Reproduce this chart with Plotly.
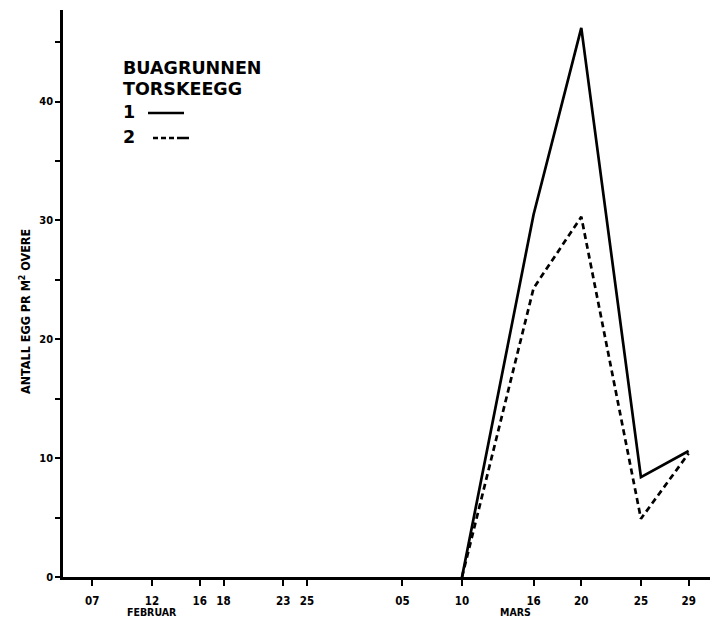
import plotly.graph_objects as go

# ---- data ----
dates = ["1983-03-10", "1983-03-16", "1983-03-20", "1983-03-25", "1983-03-29"]
series1 = [0, 30.5, 46.2, 8.4, 10.6]   # 1 (solid)
series2 = [0, 24.3, 30.3, 4.9, 10.4]   # 2 (dashed)

tick_dates = ["1983-02-07", "1983-02-12", "1983-02-16", "1983-02-18", "1983-02-23",
              "1983-02-25", "1983-03-05", "1983-03-10", "1983-03-16", "1983-03-20",
              "1983-03-25", "1983-03-29"]
tick_labels = ["07", "12", "16", "18", "23", "25", "05", "10", "16", "20", "25", "29"]

legend_title = ["BUAGRUNNEN", "TORSKEEGG"]
series_names = ["1", "2"]
y_title = "ANTALL EGG PR M<sup>2</sup> OVERE"
month_labels = [("1983-02-12", "FEBRUAR"), ("1983-03-14 12:00", "MARS")]

FONT = "DejaVu Sans Condensed, DejaVu Sans, sans-serif"
LEGEND_FONT = "DejaVu Sans, sans-serif"

fig = go.Figure()
fig.add_trace(go.Scatter(x=dates, y=series1, mode="lines", name=series_names[0],
                         line=dict(color="black", width=2.7), showlegend=False))
fig.add_trace(go.Scatter(x=dates, y=series2, mode="lines", name=series_names[1],
                         line=dict(color="black", width=2.7, dash="6px,4px"), showlegend=False))

fig.update_layout(
    width=710, height=618,
    margin=dict(l=63, r=0, t=10, b=41),
    paper_bgcolor="white", plot_bgcolor="white",
    font=dict(family=FONT, color="black"),
    xaxis=dict(
        type="date",
        range=["1983-02-04 13:00", "1983-03-30 19:00"],
        tickmode="array", tickvals=tick_dates, ticktext=tick_labels,
        ticks="outside", ticklen=6, tickwidth=2, tickcolor="black",
        ticklabelstandoff=5,
        showline=True, linewidth=2.5, linecolor="black",
        showgrid=False, zeroline=False,
        tickfont=dict(family=FONT, size=11.5, color="black", weight="bold"),
    ),
    yaxis=dict(
        range=[0, 47.7],
        tickmode="array", tickvals=[0, 10, 20, 30, 40], ticktext=["0", "10", "20", "30", "40"],
        ticks="outside", ticklen=5, tickwidth=2, tickcolor="black",
        minor=dict(tickmode="array", tickvals=[5, 15, 25, 35, 45], ticks="outside",
                   ticklen=5, tickwidth=2, tickcolor="black"),
        showline=True, linewidth=2.5, linecolor="black",
        showgrid=False, zeroline=False,
        tickfont=dict(family=FONT, size=11, color="black", weight="bold"),
    ),
)


def px(xp):
    return (xp - 63) / 647


def py(yp):
    return (577 - yp) / 567


# y-axis title
fig.add_annotation(xref="paper", yref="paper", x=px(25), y=py(312),
                   xanchor="center", yanchor="middle",
                   text=y_title, textangle=-90, showarrow=False,
                   font=dict(family=FONT, size=12.5, weight="bold"))

# month labels
for xd, txt in month_labels:
    fig.add_annotation(xref="x", yref="paper", x=xd, y=py(612), yanchor="middle",
                       xanchor="center", text=txt, showarrow=False,
                       font=dict(family=FONT, size=10.5, weight="bold"))

# legend block
for i, txt in enumerate(legend_title):
    fig.add_annotation(xref="paper", yref="paper", x=px(121), y=py(68 + 21 * i),
                       xanchor="left", yanchor="middle", text=txt, showarrow=False,
                       font=dict(family=LEGEND_FONT, size=17.5, weight="bold"))
for i, (nm, dash) in enumerate(zip(series_names, ["solid", "5px,3px,5px,3px,5px,3px,13px"])):
    yy = 112 + 25 * i
    fig.add_annotation(xref="paper", yref="paper", x=px(121), y=py(yy),
                       xanchor="left", yanchor="middle", text=nm, showarrow=False,
                       font=dict(family=LEGEND_FONT, size=17.5, weight="bold"))
    fig.add_shape(type="line", xref="paper", yref="paper",
                  x0=px(148 + 5 * i), x1=px(184 + 5 * i), y0=py(yy + 1), y1=py(yy + 1),
                  line=dict(color="black", width=2.5, dash=dash))

fig.write_html("out.html", config={"displayModeBar": False},
               post_script="document.body.style.margin='0';document.body.style.overflow='hidden';")
